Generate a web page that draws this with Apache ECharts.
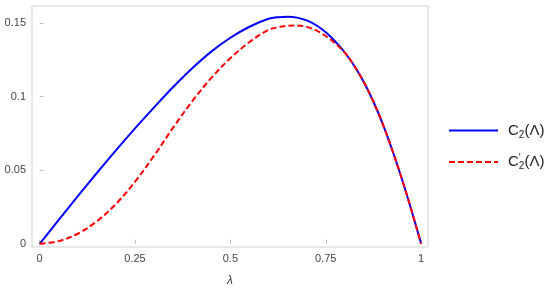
<!DOCTYPE html>
<html>
<head>
<meta charset="utf-8">
<script src="https://cdn.jsdelivr.net/npm/echarts@6/dist/echarts.min.js"></script>
<style>html,body{margin:0;padding:0;background:#fff}#c{width:550px;height:292px}</style>
</head>
<body>
<div id="c"></div>
<script>
var lambdas = [0,0.05,0.1,0.15,0.2,0.25,0.3,0.35,0.4,0.45,0.5,0.55,0.6,0.625,0.65,0.675,0.7,0.725,0.75,0.775,0.8,0.825,0.85,0.875,0.9,0.925,0.95,0.975,1];
var c2 = [0,0.0162,0.0323,0.0481,0.0635,0.0784,0.0927,0.1065,0.1193,0.1306,0.1400,0.1475,0.1529,0.1540,0.1543,0.1537,0.1518,0.1485,0.1437,0.1375,0.1300,0.1208,0.1098,0.0965,0.0810,0.0632,0.0437,0.0225,0];
var c2p = [0,0.0018,0.0068,0.0153,0.0271,0.0421,0.0599,0.0789,0.0969,0.1127,0.1261,0.1371,0.1454,0.1472,0.1482,0.1484,0.1474,0.1450,0.1412,0.1362,0.1299,0.1208,0.1098,0.0965,0.0810,0.0632,0.0437,0.0225,0];
var xTicks = [0,0.25,0.5,0.75,1];
var yTicks = [0,0.05,0.1,0.15];
var xTickLabels = ['0','0.25','0.5','0.75','1'];
var yTickLabels = ['0','0.05','0.1','0.15'];

function pairs(xs, ys){ return xs.map(function(x,i){ return [x, ys[i]]; }); }

var chart = echarts.init(document.getElementById('c'), null, {renderer:'canvas'});
var labelColor = '#444';
chart.setOption({
  animation:false,
  grid:{left:32, right:122, top:6, bottom:41, show:true, borderColor:'#cfcfcf', borderWidth:1, backgroundColor:'#fff'},
  xAxis:{
    type:'value', min:-0.02, max:1.018,
    name:'λ', nameLocation:'middle', nameGap:28,
    nameTextStyle:{fontStyle:'italic', fontSize:12, color:labelColor, fontFamily:'Liberation Sans'},
    axisLine:{show:false},
    splitLine:{show:false},
    axisTick:{show:true, inside:true, length:4, lineStyle:{color:'#bbb'}, customValues:xTicks},
    axisLabel:{color:labelColor, fontSize:11, fontFamily:'Liberation Sans', margin:6, customValues:xTicks,
      formatter:function(v){ var i=xTicks.indexOf(v); return i>=0?xTickLabels[i]:''; }}
  },
  yAxis:{
    type:'value', min:-0.0022, max:0.1616,
    axisLine:{show:false},
    splitLine:{show:false},
    axisTick:{show:true, inside:true, length:4, lineStyle:{color:'#bbb'}, customValues:yTicks},
    axisLabel:{color:labelColor, fontSize:11, fontFamily:'Liberation Sans', margin:6, customValues:yTicks,
      formatter:function(v){ var i=yTicks.indexOf(v); return i>=0?yTickLabels[i]:''; }}
  },
  legend:{
    orient:'vertical', left:448, top:123, padding:0, itemWidth:49, itemHeight:14, itemGap:13,
    itemStyle:{opacity:0},
    data:['C2','C2p'],
    textStyle:{fontFamily:'Liberation Sans', fontSize:15, color:'#222',
      rich:{
        g:{width:5},
        b:{fontSize:15, fontFamily:'Liberation Sans', color:'#222'},
        s:{fontSize:10, fontFamily:'Liberation Sans', color:'#222', padding:[9,0,0,0]},
        p:{fontSize:10, fontFamily:'Liberation Sans', color:'#222', width:0, padding:[0,0,8,0]}
      }},
    formatter:function(n){
      if(n==='C2') return '{g|}{b|C}{s|2}{b|(Λ)}';
      return '{g|}{b|C}{p|\'}{s|2}{b|(Λ)}';
    }
  },
  series:[
    {name:'C2', type:'line', data:pairs(lambdas,c2), symbol:'none', showSymbol:false, smooth:0.35,
      lineStyle:{color:'#0000ff', width:2}, itemStyle:{color:'#0000ff'}, z:2},
    {name:'C2p', type:'line', data:pairs(lambdas,c2p), symbol:'none', showSymbol:false, smooth:0.35,
      lineStyle:{color:'#ff0000', width:2, type:[6,3]}, itemStyle:{color:'#ff0000'}, z:3}
  ]
});
</script>
</body>
</html>
